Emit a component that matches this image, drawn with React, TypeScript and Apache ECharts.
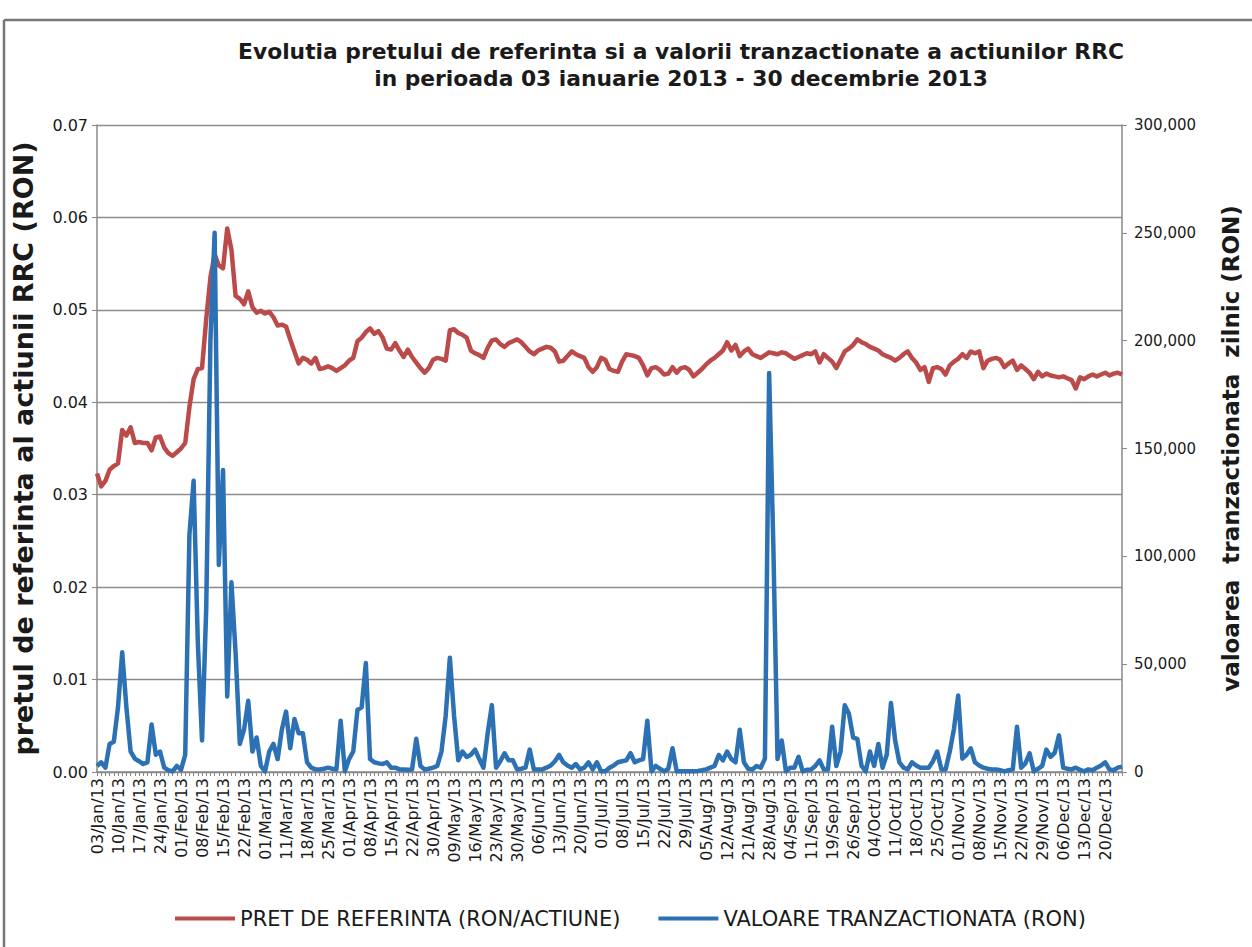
import React, { useEffect, useRef } from "react";
import * as echarts from "echarts";

const tickLabels: string[] = [
  "03/Jan/13", "10/Jan/13", "17/Jan/13", "24/Jan/13", "01/Feb/13", "08/Feb/13", "15/Feb/13",
  "22/Feb/13", "01/Mar/13", "11/Mar/13", "18/Mar/13", "25/Mar/13", "01/Apr/13", "08/Apr/13",
  "15/Apr/13", "22/Apr/13", "30/Apr/13", "09/May/13", "16/May/13", "23/May/13", "30/May/13",
  "06/Jun/13", "13/Jun/13", "20/Jun/13", "01/Jul/13", "08/Jul/13", "15/Jul/13", "22/Jul/13",
  "29/Jul/13", "05/Aug/13", "12/Aug/13", "21/Aug/13", "28/Aug/13", "04/Sep/13", "11/Sep/13",
  "19/Sep/13", "26/Sep/13", "04/Oct/13", "11/Oct/13", "18/Oct/13", "25/Oct/13", "01/Nov/13",
  "08/Nov/13", "15/Nov/13", "22/Nov/13", "29/Nov/13", "06/Dec/13", "13/Dec/13", "20/Dec/13",
];

// reference price (RON/share), one per trading day
const priceJanFeb: number[] = [
  0.0323, 0.0309, 0.0315, 0.0327, 0.0331, 0.0334, 0.037, 0.0364, 0.0373, 0.0356,
  0.0357, 0.0356, 0.0356, 0.0348, 0.0362, 0.0363, 0.0351, 0.0345, 0.0342, 0.0346,
  0.035, 0.0356, 0.0395, 0.0425, 0.0436, 0.0437, 0.049, 0.0535, 0.056, 0.0548,
  0.0545, 0.0588, 0.0565, 0.0515, 0.0512, 0.0506, 0.052, 0.0503, 0.0497, 0.0499,
];
const priceMarMay: number[] = [
  0.0496, 0.0498, 0.0492, 0.0483, 0.0484, 0.0482, 0.0468, 0.0455, 0.0442, 0.0448,
  0.0446, 0.0442, 0.0448, 0.0436, 0.0437, 0.0439, 0.0437, 0.0434, 0.0437, 0.044,
  0.0445, 0.0448, 0.0466, 0.047, 0.0476, 0.048, 0.0474, 0.0477, 0.047, 0.0458,
  0.0457, 0.0464, 0.0456, 0.0449, 0.0457, 0.0449, 0.0443, 0.0437, 0.0432, 0.0437,
  0.0446, 0.0448, 0.0447, 0.0445, 0.0478, 0.0479, 0.0475, 0.0473, 0.047, 0.0456,
  0.0453, 0.0451, 0.0448, 0.0459, 0.0467, 0.0468, 0.0463, 0.046, 0.0464, 0.0466,
];
const priceJunAug: number[] = [
  0.0468, 0.0465, 0.046, 0.0455, 0.0452, 0.0456, 0.0458, 0.046, 0.0459, 0.0455,
  0.0444, 0.0445, 0.045, 0.0455, 0.0452, 0.045, 0.0448, 0.0438, 0.0433, 0.0438,
  0.0448, 0.0446, 0.0436, 0.0434, 0.0433, 0.0444, 0.0452, 0.0451, 0.045, 0.0448,
  0.044, 0.0429, 0.0437, 0.0438, 0.0435, 0.043, 0.0431, 0.0438, 0.0432, 0.0437,
  0.0438, 0.0435, 0.0428, 0.0432, 0.0436, 0.0441, 0.0445, 0.0448, 0.0452, 0.0456,
  0.0465, 0.0456, 0.0462, 0.045, 0.0455, 0.0458, 0.0452, 0.045, 0.0448, 0.0451,
];
const priceSepDec: number[] = [
  0.0454, 0.0453, 0.0452, 0.0454, 0.0453, 0.045, 0.0447, 0.0449, 0.0451, 0.0453,
  0.0452, 0.0455, 0.0443, 0.0452, 0.0448, 0.0444, 0.0437, 0.0446, 0.0455, 0.0458,
  0.0462, 0.0468, 0.0465, 0.0463, 0.046, 0.0458, 0.0456, 0.0452, 0.045, 0.0448,
  0.0445, 0.0448, 0.0452, 0.0455, 0.0448, 0.0443, 0.0435, 0.0438, 0.0422, 0.0437,
  0.0438, 0.0436, 0.043, 0.044, 0.0444, 0.0447, 0.0452, 0.0448, 0.0455, 0.0453,
  0.0455, 0.0437, 0.0445, 0.0447, 0.0448, 0.0446, 0.0438, 0.0442, 0.0445, 0.0435,
  0.044, 0.0436, 0.0432, 0.0425, 0.0433, 0.0428, 0.0431, 0.0429, 0.0428, 0.0427,
  0.0428, 0.0426, 0.0424, 0.0415, 0.0427, 0.0425, 0.0428, 0.043, 0.0428, 0.043,
  0.0432, 0.0429, 0.0431, 0.0432, 0.043,
];

// daily traded value (RON)
const valueJanFeb: number[] = [
  2800, 4500, 2000, 13000, 14000, 30000, 55500, 30000, 9500, 6200,
  5000, 3700, 4500, 22000, 8000, 9500, 2000, 800, 300, 2800,
  1000, 8000, 110000, 135000, 60000, 14600, 76000, 200000, 250000, 96000,
  140000, 35000, 88000, 55000, 13000, 19600, 33000, 9500, 16000, 2800,
];
const valueMarMay: number[] = [
  300, 9500, 13000, 6000, 19600, 28000, 11000, 24600, 18000, 18000,
  4500, 2000, 1200, 1200, 1500, 2000, 1500, 1200, 23800, 300,
  6000, 9500, 28800, 30000, 50500, 6000, 4500, 4000, 3700, 4500,
  2000, 2000, 1200, 1200, 1000, 1200, 15400, 2800, 1200, 1500,
  2000, 2800, 9500, 26000, 53000, 26000, 5400, 9500, 7000, 8000,
  10400, 6000, 2000, 18000, 31000, 2000, 5000, 8700, 5400, 5400,
];
const valueJunAug: number[] = [
  1200, 1500, 2000, 10400, 1200, 1200, 1200, 2000, 3000, 5000,
  7900, 4500, 3000, 2000, 3700, 1200, 2000, 4500, 1200, 4500,
  300, 300, 2000, 3000, 4500, 5000, 5400, 8700, 4500, 5400,
  6000, 23800, 300, 2800, 1500, 300, 1500, 11000, 300, 300,
  300, 300, 300, 500, 800, 1200, 2000, 2800, 7900, 5400,
  9500, 6000, 4500, 19600, 4500, 1500, 1200, 2800, 2000, 6200,
];
const valueSepDec: number[] = [
  185000, 105000, 6000, 14600, 300, 2000, 2000, 7000, 300, 1000,
  1200, 2800, 5400, 1200, 1200, 21000, 2800, 9500, 31000, 27000,
  16000, 15400, 2800, 300, 9500, 2800, 13000, 2000, 8000, 32000,
  14600, 4500, 2000, 1200, 4500, 3000, 2000, 2000, 2000, 5000,
  9500, 1200, 1200, 9500, 20000, 35500, 6200, 8000, 11000, 4500,
  3000, 2000, 1500, 1200, 1200, 800, 300, 800, 1200, 21000,
  2000, 4000, 8700, 300, 1500, 2800, 10400, 7000, 9000, 17000,
  2000, 1500, 1200, 2000, 1000, 300, 1200, 800, 2000, 3000,
  4500, 1200, 800, 2000, 2500,
];

const priceData = [...priceJanFeb, ...priceMarMay, ...priceJunAug, ...priceSepDec];
const valueData = [...valueJanFeb, ...valueMarMay, ...valueJunAug, ...valueSepDec];

const categories: string[] = priceData.map((_, i) =>
  i % 5 === 0 ? tickLabels[i / 5] : `${tickLabels[Math.floor(i / 5)]} +${i % 5}`
);

const FONT = "DejaVu Sans";

export default function App() {
  const ref = useRef<HTMLDivElement>(null);
  useEffect(() => {
    if (!ref.current) return;
    const chart = echarts.init(ref.current, undefined, { renderer: "svg" });
    chart.setOption({
      animation: false,
      backgroundColor: "#ffffff",
      textStyle: { fontFamily: FONT },
      title: {
        text: "Evolutia pretului de referinta si a valorii tranzactionate a actiunilor RRC\nin perioada 03 ianuarie 2013 - 30 decembrie 2013",
        left: 676,
        top: 33,
        textAlign: "center",
        textStyle: { fontFamily: FONT, fontSize: 21.8, fontWeight: "bold", color: "#1a1a1a", lineHeight: 27 },
      },
      legend: {
        left: 170,
        top: 903,
        icon: "rect",
        itemWidth: 60,
        itemHeight: 4,
        itemGap: 38,
        textStyle: { fontFamily: FONT, fontSize: 21, color: "#1a1a1a" },
        data: ["PRET DE REFERINTA (RON/ACTIUNE)", "VALOARE TRANZACTIONATA (RON)"],
      },
      grid: { left: 97, right: 130, top: 125, bottom: 175 },
      xAxis: {
        type: "category",
        data: categories,
        boundaryGap: false,
        axisLine: { lineStyle: { color: "#888", width: 1.5 } },
        axisTick: { show: true, interval: 0, length: 4, lineStyle: { color: "#888" } },
        axisLabel: { interval: 4, rotate: 90, fontSize: 16, margin: 6, color: "#1a1a1a", fontFamily: FONT },
        splitLine: { show: false },
      },
      yAxis: [
        {
          type: "value",
          min: 0,
          max: 0.07,
          interval: 0.01,
          name: "pretul de referinta al actiunii RRC (RON)",
          nameLocation: "middle",
          nameRotate: 90,
          nameGap: 60,
          nameTextStyle: { fontFamily: FONT, fontSize: 27, fontWeight: "bold", color: "#1a1a1a", padding: [0, 0, 0, 0] },
          axisLine: { show: true, lineStyle: { color: "#888", width: 1.5 } },
          axisTick: { show: true, length: 5, lineStyle: { color: "#888" } },
          axisLabel: { formatter: (v: number) => v.toFixed(2), fontSize: 16, margin: 9, color: "#1a1a1a" },
          splitLine: { show: true, lineStyle: { color: "#8c8c8c", width: 1.4 } },
        },
        {
          type: "value",
          min: 0,
          max: 300000,
          interval: 50000,
          name: "valoarea  tranzactionata  zilnic (RON)",
          nameLocation: "middle",
          nameRotate: 90,
          nameGap: 97,
          nameTextStyle: { fontFamily: FONT, fontSize: 23, fontWeight: "bold", color: "#1a1a1a" },
          axisLine: { show: true, lineStyle: { color: "#888", width: 1.5 } },
          axisTick: { show: true, length: 5, lineStyle: { color: "#888" } },
          axisLabel: {
            formatter: (v: number) => v.toLocaleString("en-US"),
            fontSize: 15,
            margin: 12,
            color: "#1a1a1a",
          },
          splitLine: { show: false },
        },
      ],
      series: [
        {
          name: "PRET DE REFERINTA (RON/ACTIUNE)",
          type: "line",
          yAxisIndex: 0,
          data: priceData,
          showSymbol: false,
          color: "#bb4a4a",
          lineStyle: { color: "#bb4a4a", width: 4.5, join: "round" },
        },
        {
          name: "VALOARE TRANZACTIONATA (RON)",
          type: "line",
          yAxisIndex: 1,
          data: valueData,
          showSymbol: false,
          color: "#2b71b4",
          lineStyle: { color: "#2b71b4", width: 4.5, join: "round" },
        },
      ],
      graphic: [
        { type: "line", shape: { x1: 4, y1: 20, x2: 4, y2: 947 }, style: { stroke: "#777", lineWidth: 2.5 } },
        { type: "line", shape: { x1: 4, y1: 20, x2: 1252, y2: 20 }, style: { stroke: "#777", lineWidth: 2.5 } },
      ],
    });
    return () => chart.dispose();
  }, []);
  return (
    <div
      ref={ref}
      style={{ position: "fixed", left: 0, top: 0, width: "1252px", height: "947px" }}
    />
  );
}
